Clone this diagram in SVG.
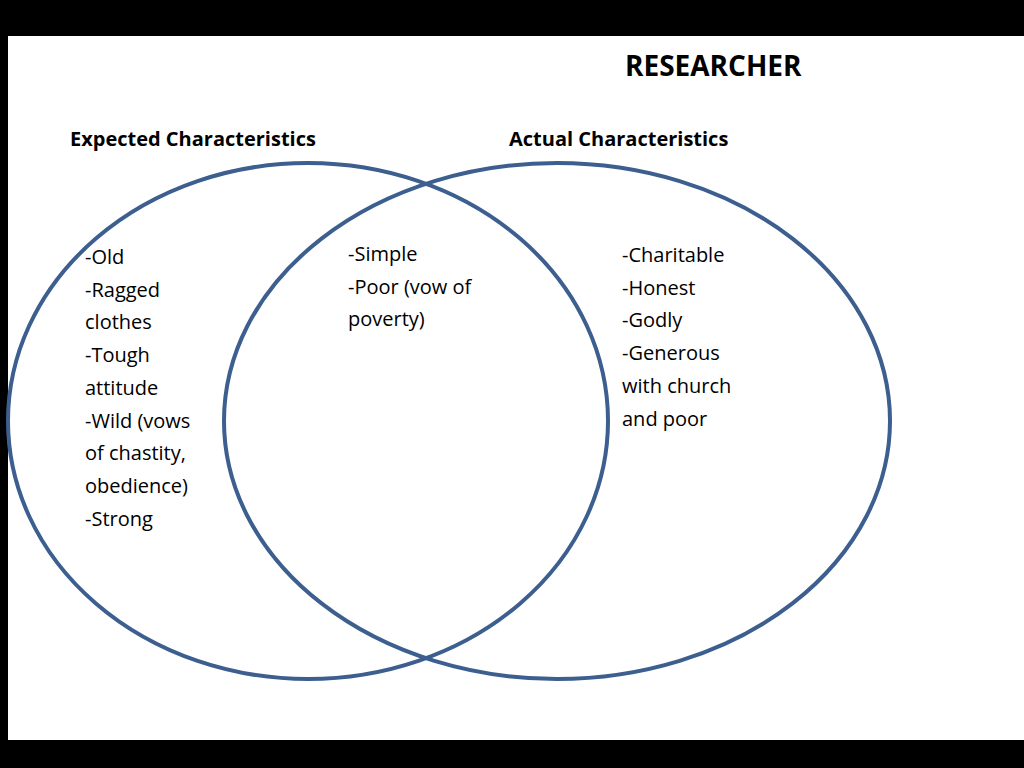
<svg xmlns="http://www.w3.org/2000/svg" width="1024" height="768" viewBox="0 0 1024 768">
<style>
.t{font-family:"Open Sans","Liberation Sans",sans-serif;font-size:20px;fill:#000}
.h{font-family:"Open Sans","Liberation Sans",sans-serif;font-size:20px;font-weight:bold;fill:#000}
.c{fill:none;stroke:#3c5f8f;stroke-width:4}
</style>
<rect width="1024" height="768" fill="#000"/>
<rect x="8" y="36" width="1016" height="704" fill="#fff"/>
<text class="h" x="625" y="76" style="font-size:28px">RESEARCHER</text>
<g id="left">
<ellipse class="c" cx="308" cy="421" rx="300" ry="258"/>
<text class="h" x="70" y="146">Expected Characteristics</text>
<text class="t" x="85" y="264"><tspan x="85">-Old</tspan><tspan x="85" dy="32.7">-Ragged</tspan><tspan x="85" dy="32.7">clothes</tspan><tspan x="85" dy="32.7">-Tough</tspan><tspan x="85" dy="32.7">attitude</tspan><tspan x="85" dy="32.7">-Wild (vows</tspan><tspan x="85" dy="32.7">of chastity,</tspan><tspan x="85" dy="32.7">obedience)</tspan><tspan x="85" dy="32.7">-Strong</tspan></text>
</g>
<g id="right">
<ellipse class="c" cx="557" cy="421" rx="333" ry="258"/>
<text class="h" x="509" y="146">Actual Characteristics</text>
<text class="t" x="622" y="262"><tspan x="622">-Charitable</tspan><tspan x="622" dy="32.7">-Honest</tspan><tspan x="622" dy="32.7">-Godly</tspan><tspan x="622" dy="32.7">-Generous</tspan><tspan x="622" dy="32.7">with church</tspan><tspan x="622" dy="32.7">and poor</tspan></text>
</g>
<g id="overlap">
<text class="t" x="348" y="261"><tspan x="348">-Simple</tspan><tspan x="348" dy="32.7">-Poor (vow of</tspan><tspan x="348" dy="32.7">poverty)</tspan></text>
</g>
<g id="connectors"/>
</svg>
